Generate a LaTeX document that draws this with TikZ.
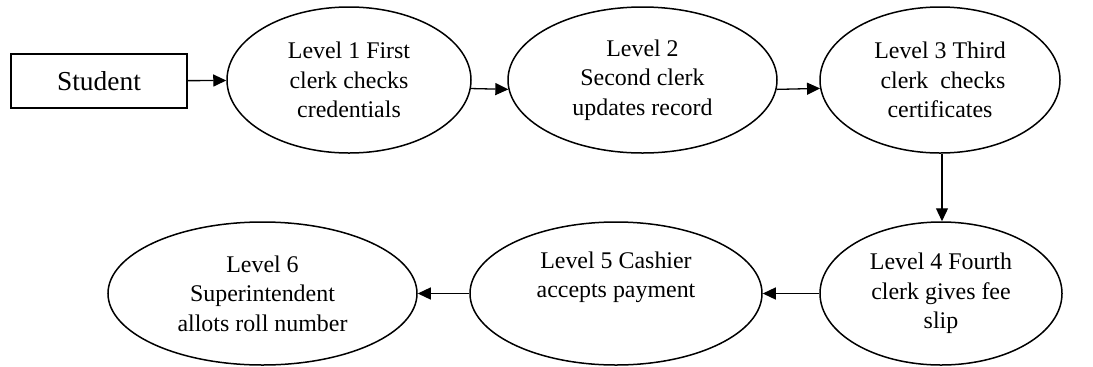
\documentclass[tikz,border=0pt]{standalone}
\usepackage{fontspec}
\setmainfont{Liberation Serif}
\newfontfamily\timesfont{Liberation Serif}
\usetikzlibrary{shapes.geometric,arrows.meta}
\begin{document}
\begin{tikzpicture}[x=1bp,y=-1bp,
  level/.style={ellipse,draw,line width=1.5bp,inner sep=0pt,align=center,
    font=\timesfont\fontsize{24}{29.5}\selectfont},
  box/.style={rectangle,draw,line width=1.5bp,inner sep=0pt,
    font=\timesfont\fontsize{27.5}{30}\selectfont},
  arr/.style={line width=1.3bp,-{Triangle[length=13bp,width=12bp]}}]
\useasboundingbox (0,0) rectangle (1093,366);
% top row
\node[box,minimum width=176bp,minimum height=54bp] (student) at (99,81) {Student};
\node[level,minimum width=244bp,minimum height=146bp] (e1) at (349,80)
  {Level 1 First\\clerk checks\\credentials};
\node[level,minimum width=269bp,minimum height=146bp] (e2) at (642.5,80)
  {Level 2\\Second clerk\\updates record};
\node[level,minimum width=240bp,minimum height=146bp] (e3) at (940,80)
  {Level 3 Third\\\ clerk~~checks\\certificates~};
% bottom row
\node[level,minimum width=242bp,minimum height=143bp] (e4) at (941,293.5)
  {Level 4 Fourth\\clerk gives fee\\slip};
\node[level,minimum width=292bp,minimum height=143bp] (e5) at (616,293.5)
  {Level 5 Cashier\\accepts payment\\\strut};
\node[level,minimum width=309bp,minimum height=143bp] (e6) at (262.5,293.5)
  {Level 6\\Superintendent\\allots roll number};
% connectors
\draw[arr] (student) -- (e1);
\draw[arr] (e1.-4.7) -- (e2.184.3);
\draw[arr] (e2.-4.3) -- (e3.184.8);
\draw[arr] (e3.south -| 942,0) -- (e4.north -| 942,0);
\draw[arr] (e4) -- (e5);
\draw[arr] (e5) -- (e6);
\end{tikzpicture}
\end{document}
